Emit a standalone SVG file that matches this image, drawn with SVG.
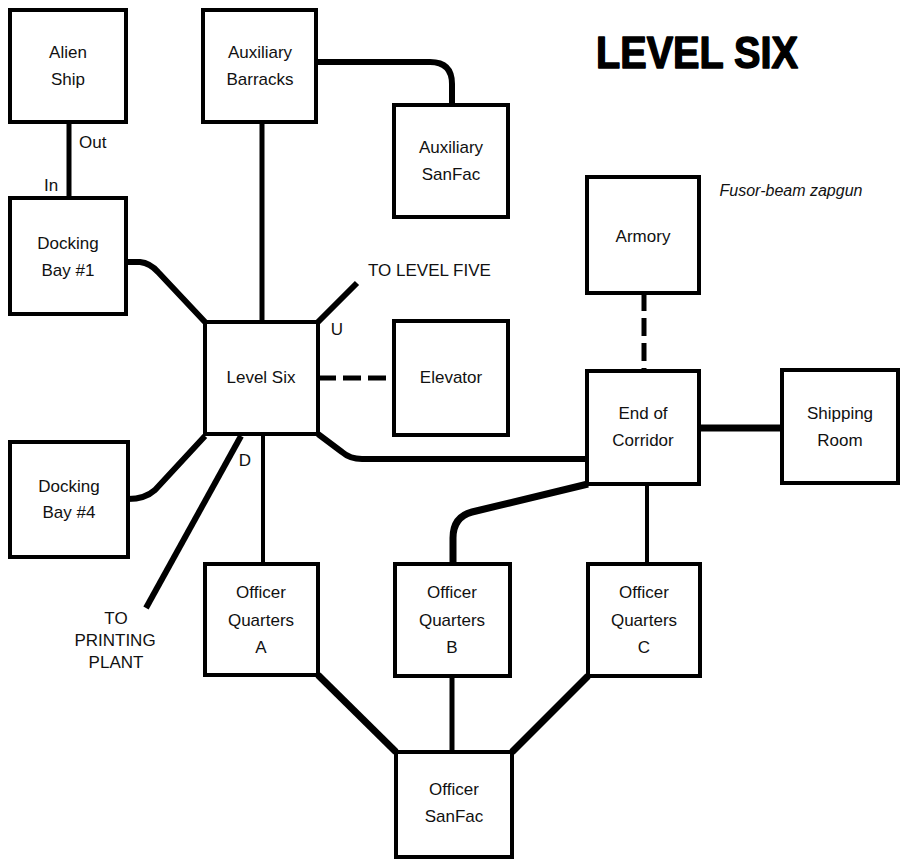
<svg xmlns="http://www.w3.org/2000/svg" width="900" height="859" viewBox="0 0 900 859">
<style>
.box{fill:#fff;stroke:#000;stroke-width:4}
.t{font-family:"Liberation Sans",Arial,sans-serif;font-size:17px;fill:#111;text-anchor:middle}
.lbl{font-family:"Liberation Sans",Arial,sans-serif;font-size:17px;fill:#111}
.c{fill:none;stroke:#000;stroke-linecap:butt;stroke-linejoin:round}
.dash{stroke-dasharray:18 7}
</style>
<rect width="900" height="859" fill="#fff"/>
<text x="596" y="68" font-family="Liberation Sans,Arial,sans-serif" font-weight="bold" font-size="45" textLength="202" lengthAdjust="spacingAndGlyphs" fill="#000" stroke="#000" stroke-width="1.5" stroke-linejoin="round">LEVEL SIX</text>
<g id="connectors">
<path class="c" stroke-width="5" d="M69 122 V198"/>
<path class="c" stroke-width="5" d="M262 122 V322"/>
<path class="c" stroke-width="6" d="M316 62 H430 Q452 62 452 84 V105"/>
<path class="c" stroke-width="6" d="M127 262 H140 Q150 263 158 272 L205 322"/>
<path class="c" stroke-width="6" d="M318 322 L357 283"/>
<path class="c dash" stroke-width="5" d="M318 378 H394"/>
<path class="c" stroke-width="6" d="M318 434 L342 452 Q350 459 362 459 H587"/>
<path class="c" stroke-width="6" d="M128 499 Q145 499 155 490 L205 436"/>
<path class="c" stroke-width="6" d="M241 436 L146 608"/>
<path class="c" stroke-width="4" d="M263 434 V564"/>
<path class="c dash" stroke-width="5" d="M644 293 V371"/>
<path class="c" stroke-width="7" d="M699 428 H782"/>
<path class="c" stroke-width="7" d="M588 484 L472 512 Q453 517 453 538 V564"/>
<path class="c" stroke-width="4" d="M647 484 V564"/>
<path class="c" stroke-width="7" d="M318 675 L396 752"/>
<path class="c" stroke-width="5" d="M452 676 V752"/>
<path class="c" stroke-width="7" d="M588 676 L512 752"/>
</g>
<g id="alien-ship"><rect class="box" x="10" y="10" width="116" height="112"/><text class="t" x="68" y="58">Alien</text><text class="t" x="68" y="85">Ship</text></g>
<g id="auxiliary-barracks"><rect class="box" x="203" y="10" width="113" height="112"/><text class="t" x="260" y="58">Auxiliary</text><text class="t" x="260" y="85">Barracks</text></g>
<g id="auxiliary-sanfac"><rect class="box" x="394" y="105" width="114" height="112"/><text class="t" x="451" y="153">Auxiliary</text><text class="t" x="451" y="180">SanFac</text></g>
<g id="docking-bay-1"><rect class="box" x="10" y="198" width="116" height="116"/><text class="t" x="68" y="249">Docking</text><text class="t" x="68" y="276">Bay #1</text></g>
<g id="armory"><rect class="box" x="587" y="177" width="112" height="116"/><text class="t" x="643" y="242">Armory</text></g>
<g id="level-six"><rect class="box" x="205" y="322" width="113" height="112"/><text class="t" x="261" y="383">Level Six</text></g>
<g id="elevator"><rect class="box" x="394" y="321" width="114" height="114"/><text class="t" x="451" y="383">Elevator</text></g>
<g id="end-of-corridor"><rect class="box" x="587" y="371" width="112" height="113"/><text class="t" x="643" y="419">End of</text><text class="t" x="643" y="446">Corridor</text></g>
<g id="shipping-room"><rect class="box" x="782" y="370" width="116" height="113"/><text class="t" x="840" y="419">Shipping</text><text class="t" x="840" y="446">Room</text></g>
<g id="docking-bay-4"><rect class="box" x="10" y="442" width="118" height="115"/><text class="t" x="69" y="492">Docking</text><text class="t" x="69" y="518">Bay #4</text></g>
<g id="officer-quarters-a"><rect class="box" x="205" y="564" width="113" height="111"/><text class="t" x="261" y="598">Officer</text><text class="t" x="261" y="626">Quarters</text><text class="t" x="261" y="653">A</text></g>
<g id="officer-quarters-b"><rect class="box" x="395" y="564" width="115" height="112"/><text class="t" x="452" y="598">Officer</text><text class="t" x="452" y="626">Quarters</text><text class="t" x="452" y="653">B</text></g>
<g id="officer-quarters-c"><rect class="box" x="588" y="564" width="112" height="112"/><text class="t" x="644" y="598">Officer</text><text class="t" x="644" y="626">Quarters</text><text class="t" x="644" y="653">C</text></g>
<g id="officer-sanfac"><rect class="box" x="396" y="752" width="116" height="105"/><text class="t" x="454" y="795">Officer</text><text class="t" x="454" y="822">SanFac</text></g>
<g id="labels">
<text class="lbl" x="79" y="148">Out</text>
<text class="lbl" x="44" y="191">In</text>
<text class="lbl" x="368" y="276">TO LEVEL FIVE</text>
<text class="t" x="337" y="335">U</text>
<text class="t" x="245" y="466">D</text>
<text class="t" x="116" y="624">TO</text>
<text class="t" x="115" y="646">PRINTING</text>
<text class="t" x="116" y="668">PLANT</text>
<text x="791" y="196" font-family="Liberation Sans,Arial,sans-serif" font-style="italic" font-size="16" text-anchor="middle" fill="#111">Fusor-beam zapgun</text>
</g>
</svg>
